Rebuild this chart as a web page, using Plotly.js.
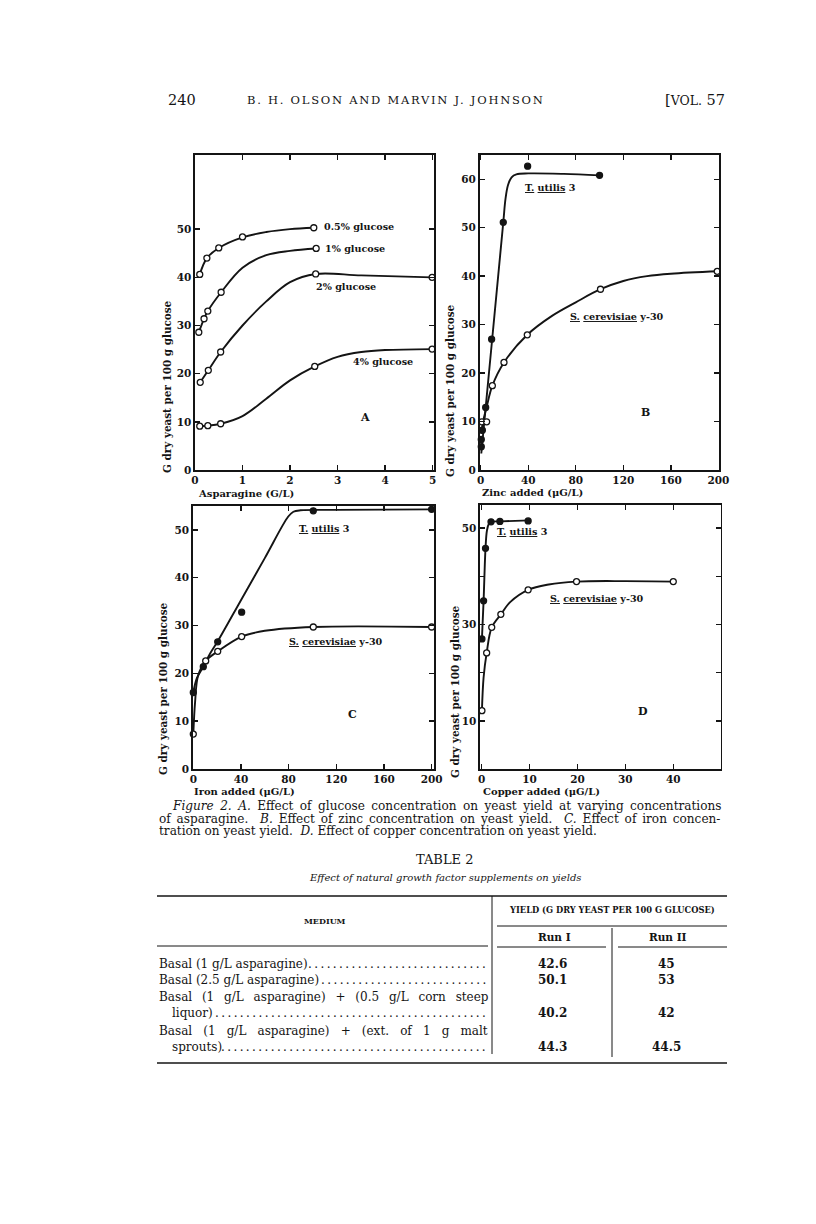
<!DOCTYPE html>
<html><head><meta charset="utf-8">
<script src="https://cdn.plot.ly/plotly-3.0.1.min.js"></script>
<style>html,body{margin:0;padding:0;background:#fff;}#plot{width:816px;height:1224px;}</style>
</head><body><div id="plot"></div>
<script>
// ---------- Panel A : asparagine (G/L) vs yield, four glucose levels ----------
const aX_05 = [0.1, 0.25, 0.5, 1.0, 2.5];
const aY_05 = [40.6, 44.0, 46.1, 48.4, 50.3];
const aX_1 = [0.08, 0.19, 0.27, 0.55, 2.55];
const aY_1 = [28.6, 31.4, 33.0, 36.9, 46.0];
const aX_2 = [0.11, 0.28, 0.54, 2.54, 4.99];
const aY_2 = [18.2, 20.7, 24.5, 40.7, 40.0];
const aX_4 = [0.1, 0.27, 0.54, 2.52, 4.99];
const aY_4 = [9.1, 9.2, 9.6, 21.5, 25.1];
const aCurveX_05 = [0.1, 0.25, 0.5, 1.0, 1.5, 2.0, 2.5];
const aCurveY_05 = [40.6, 44.0, 46.1, 48.3, 49.4, 50.0, 50.3];
const aCurveX_1 = [0.08, 0.19, 0.27, 0.55, 1.0, 1.5, 2.0, 2.55];
const aCurveY_1 = [28.6, 31.4, 33.0, 36.9, 42.0, 44.6, 45.5, 46.0];
const aCurveX_2 = [0.11, 0.28, 0.54, 1.0, 1.5, 2.0, 2.54, 3.5, 4.99];
const aCurveY_2 = [18.2, 20.7, 24.5, 30.0, 35.0, 39.0, 40.7, 40.4, 40.0];
const aCurveX_4 = [0.1, 0.27, 0.54, 1.0, 1.5, 2.0, 2.52, 3.0, 3.5, 4.0, 4.99];
const aCurveY_4 = [9.1, 9.2, 9.6, 11.2, 14.8, 18.6, 21.5, 23.5, 24.5, 24.9, 25.1];
const aLabels = ['0.5% glucose', '1% glucose', '2% glucose', '4% glucose'];

// ---------- Panel B : zinc added (µG/L) ----------
const bX_tu = [0.5, 0.5, 1.4, 4.2, 9.2, 19, 39.5, 100];
const bY_tu = [4.8, 6.3, 8.2, 12.9, 27.0, 51.1, 62.7, 60.8];
const bCurveX_tu = [0.5, 4.2, 9.2, 19, 20.9, 23, 26, 30, 40, 70, 100];
const bCurveY_tu = [3.4, 12.9, 25.8, 51.1, 56.0, 58.8, 60.4, 61.0, 61.2, 61.1, 60.8];
const bX_sc = [1, 5, 9.8, 19.6, 39.2, 100.8, 199];
const bY_sc = [9.95, 9.95, 17.4, 22.2, 27.9, 37.3, 41.0];
const bCurveX_sc = [0.5, 2, 5, 9.8, 19.6, 39.2, 60, 80, 100.8, 120, 140, 160, 200];
const bCurveY_sc = [7.5, 10, 13, 17.4, 22.2, 27.9, 31.8, 34.6, 37.3, 39.0, 40.0, 40.5, 41.0];
const bTicks = [0, 40, 80, 120, 160, 200];

// ---------- Panel C : iron added (µG/L) ----------
const cX_tu = [0, 8.4, 20.5, 40.6, 100.7, 200];
const cY_tu = [16.0, 21.4, 26.6, 32.8, 54.0, 54.3];
const cCurveX_tu = [0, 3, 8.4, 14, 20.5, 40, 60, 79.7, 84, 90, 120, 200];
const cCurveY_tu = [16.0, 19.0, 21.4, 24.1, 26.7, 35.3, 44.1, 52.8, 53.8, 54.1, 54.2, 54.3];
const cX_sc = [0, 10.4, 20.5, 40.6, 100.7, 200];
const cY_sc = [7.3, 22.6, 24.6, 27.7, 29.7, 29.7];
const cCurveX_sc = [0, 1.5, 4, 10.4, 20.5, 40.6, 60, 100.7, 200];
const cCurveY_sc = [7.3, 14, 19.5, 22.6, 24.6, 27.7, 28.9, 29.7, 29.7];
const cTicks = [0, 40, 80, 120, 160, 200];

// ---------- Panel D : copper added (µG/L) ----------
const dX_tu = [0.05, 0.4, 0.8, 1.95, 3.8, 9.7];
const dY_tu = [27.0, 34.9, 45.8, 51.3, 51.4, 51.5];
const dCurveX_tu = [0.05, 0.4, 0.8, 1.1, 1.5, 2, 4, 10];
const dCurveY_tu = [27.0, 34.9, 45.8, 49.5, 50.9, 51.3, 51.4, 51.6];
const dX_sc = [0.05, 1.04, 2.1, 4.0, 9.7, 19.8, 40];
const dY_sc = [12.1, 24.1, 29.4, 32.1, 37.2, 38.9, 38.9];
const dCurveX_sc = [0.05, 0.4, 1.04, 2.1, 4.0, 6.0, 9.7, 14, 19.8, 30, 40];
const dCurveY_sc = [12.1, 19, 24.1, 29.4, 32.1, 34.7, 37.2, 38.3, 38.9, 39.0, 38.9];
const dTicksX = [0, 10, 20, 30, 40];
const dTicksY = [10, 20, 30, 40, 50];
const dTickTextY = ['10', '', '30', '', '50'];

// ---------- Table 2 ----------
const tableRows = ['Basal (1 g/L asparagine)', 'Basal (2.5 g/L asparagine)',
  'Basal (1 g/L asparagine) + (0.5 g/L corn steep', 'liquor)',
  'Basal (1 g/L asparagine) + (ext. of 1 g malt', 'sprouts)'];
const runI = ['42.6', '50.1', '', '40.2', '', '44.3'];
const runII = ['45', '53', '', '42', '', '44.5'];

// ---------- drawing ----------
const W = 816, H = 1224;
const INK = '#141414';
const SERIF = '"DejaVu Serif", "Liberation Serif", serif';
const fx = p => p / W, fy = p => 1 - p / H;

function lineTrace(x, y, xa, ya) {
  return {x, y, xaxis: xa, yaxis: ya, mode: 'lines', type: 'scatter',
    line: {color: INK, width: 1.9, shape: 'spline', smoothing: 1}, hoverinfo: 'skip'};
}
function ptTrace(x, y, xa, ya, open) {
  return {x, y, xaxis: xa, yaxis: ya, mode: 'markers', type: 'scatter', cliponaxis: false,
    marker: {symbol: 'circle', size: 6, color: open ? '#fff' : INK, line: {color: INK, width: 1.3}},
    hoverinfo: 'skip'};
}
const traces = [];
[[aCurveX_05, aCurveY_05], [aCurveX_1, aCurveY_1], [aCurveX_2, aCurveY_2], [aCurveX_4, aCurveY_4]]
  .forEach(([x, y]) => traces.push(lineTrace(x, y, 'x', 'y')));
[[aX_05, aY_05], [aX_1, aY_1], [aX_2, aY_2], [aX_4, aY_4]]
  .forEach(([x, y]) => traces.push(ptTrace(x, y, 'x', 'y', true)));
traces.push(lineTrace(bCurveX_tu, bCurveY_tu, 'x2', 'y2'));
traces.push(lineTrace(bCurveX_sc, bCurveY_sc, 'x2', 'y2'));
traces.push(ptTrace(bX_sc, bY_sc, 'x2', 'y2', true));
traces.push(ptTrace(bX_tu, bY_tu, 'x2', 'y2', false));
traces.push(lineTrace(cCurveX_tu, cCurveY_tu, 'x3', 'y3'));
traces.push(lineTrace(cCurveX_sc, cCurveY_sc, 'x3', 'y3'));
traces.push(ptTrace(cX_sc, cY_sc, 'x3', 'y3', true));
traces.push(ptTrace(cX_tu, cY_tu, 'x3', 'y3', false));
traces.push(lineTrace(dCurveX_tu, dCurveY_tu, 'x4', 'y4'));
traces.push(lineTrace(dCurveX_sc, dCurveY_sc, 'x4', 'y4'));
traces.push(ptTrace(dX_sc, dY_sc, 'x4', 'y4', true));
traces.push(ptTrace(dX_tu, dY_tu, 'x4', 'y4', false));

const tickFont = {family: SERIF, size: 10.5, color: INK, weight: 'bold'};
function ax(extra) {
  return Object.assign({showline: true, linecolor: INK, linewidth: 1.6, mirror: 'ticks',
    ticks: 'inside', ticklen: 5, tickwidth: 1.4, tickcolor: INK, showgrid: false,
    zeroline: false, tickfont: tickFont, fixedrange: true, tickmode: 'array'}, extra);
}
const layout = {
  width: W, height: H, margin: {l: 0, r: 0, t: 0, b: 0},
  paper_bgcolor: '#fff', plot_bgcolor: 'rgba(0,0,0,0)', showlegend: false,
  xaxis: ax({domain: [fx(195), fx(434)], range: [0, 5.03], anchor: 'y', tickvals: [0, 1, 2, 3, 4, 5]}),
  yaxis: ax({domain: [fy(470), fy(155)], range: [0, 65.4], anchor: 'x', tickvals: [0, 10, 20, 30, 40, 50]}),
  xaxis2: ax({domain: [fx(479.5), fx(719)], range: [-1, 200.5], anchor: 'y2', tickvals: bTicks}),
  yaxis2: ax({domain: [fy(470), fy(155)], range: [0, 65], anchor: 'x2', tickvals: [0, 10, 20, 30, 40, 50, 60]}),
  xaxis3: ax({domain: [fx(192.7), fx(434)], range: [-0.5, 202], anchor: 'y3', tickvals: cTicks}),
  yaxis3: ax({domain: [fy(769), fy(506)], range: [0, 55], anchor: 'x3', tickvals: [0, 10, 20, 30, 40, 50]}),
  xaxis4: ax({domain: [fx(480), fx(720.7)], range: [-0.35, 49.9], anchor: 'y4', tickvals: dTicksX}),
  yaxis4: ax({domain: [fy(769), fy(505)], range: [0, 54.8], anchor: 'x4', tickvals: dTicksY, ticktext: dTickTextY}),
  annotations: [], shapes: []
};

const A = layout.annotations;
const boldF = (s) => ({family: SERIF, size: s, color: INK, weight: 'bold'});
const regF = (s) => ({family: SERIF, size: s, color: INK});
function dataText(text, x, y, xa, ya, anchor, size) {
  A.push({text, x, y, xref: xa, yref: ya, showarrow: false, xanchor: anchor || 'left',
    yanchor: 'middle', font: boldF(size || 9.6)});
}
function pageText(text, x, y, font, anchor, extra) {
  A.push(Object.assign({text, x: fx(x), y: fy(y), xref: 'paper', yref: 'paper', showarrow: false,
    xanchor: anchor || 'left', yanchor: 'middle', font}, extra || {}));
}
function rule(x0, y0, x1, y1, w) {
  layout.shapes.push({type: 'line', xref: 'paper', yref: 'paper', x0: fx(x0), y0: fy(y0),
    x1: fx(x1), y1: fy(y1), line: {color: INK, width: w}});
}
const sp = (css, t) => '<span style="' + css + '">' + t + '</span>';

// in-plot labels
dataText(aLabels[0], 2.68, 50.5, 'x', 'y');
dataText(aLabels[1], 2.70, 46.0, 'x', 'y');
dataText(aLabels[2], 2.51, 38.2, 'x', 'y');
dataText(aLabels[3], 3.28, 22.6, 'x', 'y');
dataText('A', 3.58, 11.0, 'x', 'y', 'center', 11);
const TU = '<u>T.</u> <u>utilis</u> 3';
const SC = '<u>S.</u> <u>cerevisiae</u> y-30';
dataText(TU, 36, 58.2, 'x2', 'y2');
dataText(SC, 73.8, 31.6, 'x2', 'y2');
dataText('B', 138.3, 11.9, 'x2', 'y2', 'center', 11);
dataText(TU, 87.2, 50.3, 'x3', 'y3');
dataText(SC, 78.4, 26.7, 'x3', 'y3');
dataText('C', 133.7, 11.5, 'x3', 'y3', 'center', 11);
dataText(TU, 2.8, 49.2, 'x4', 'y4');
dataText(SC, 13.9, 35.3, 'x4', 'y4');
dataText('D', 33.6, 11.9, 'x4', 'y4', 'center', 11);

// axis titles
const YT = 'G dry yeast per 100 g glucose';
pageText(YT, 167, 387, boldF(10.4), 'center', {textangle: -90});
pageText(YT, 450, 391, boldF(10.4), 'center', {textangle: -90});
pageText(YT, 163, 689, boldF(10.4), 'center', {textangle: -90});
pageText(YT, 455, 692, boldF(10.4), 'center', {textangle: -90});
pageText('Asparagine (G/L)', 196, 493, boldF(10));
pageText('Zinc added (\u03bcG/L)', 480, 492, boldF(10));
pageText('Iron added (\u03bcG/L)', 192, 791, boldF(10));
pageText('Copper added (\u03bcG/L)', 481, 791, boldF(10));

// running head
pageText('240', 166, 100, regF(14.5));
pageText(sp('letter-spacing:1.75px', 'B. H. OLSON AND MARVIN J. JOHNSON'), 245, 100, regF(11.5));
pageText('[' + sp('font-size:12.5px', 'VOL.') + ' 57', 727, 100, regF(14.5), 'right');

// caption
const capF = regF(12.1);
pageText(sp('word-spacing:2.6px', '<i>Figure 2. A.</i> Effect of glucose concentration on yeast yield at varying concentrations'), 170, 806, capF);
pageText(sp('word-spacing:2.0px', 'of asparagine.\u00a0 <i>B.</i> Effect of zinc concentration on yeast yield.\u00a0 <i>C.</i> Effect of iron concen-'), 157, 818.5, capF);
pageText('tration on yeast yield.\u00a0 <i>D.</i> Effect of copper concentration on yeast yield.', 157, 831, capF);

// table
pageText('TABLE 2', 445, 860, regF(13), 'center');
pageText('<i>Effect of natural growth factor supplements on yields</i>', 445, 877, regF(10), 'center');
rule(157, 896, 727, 896, 1.5);
pageText('MEDIUM', 325, 921, boldF(8), 'center');
pageText('YIELD (G DRY YEAST PER 100 G GLUCOSE)', 612, 910, boldF(8.3), 'center');
rule(497, 926, 727, 926, 1);
pageText('Run I', 554, 937, boldF(10.5), 'center');
pageText('Run II', 668, 937, boldF(10.5), 'center');
rule(157, 946, 488, 946, 1);
rule(497, 947, 606, 947, 1);
rule(618, 947, 727, 947, 1);
rule(492, 896, 492, 1054, 1);
rule(612, 928, 612, 1057, 1);
const rowY = [964, 980, 997, 1013, 1031, 1047];
const rowX = [157, 157, 157, 170, 157, 170];
const dotsN = [29, 27, 0, 44, 0, 43];
const rowWordSpacing = [0, 0, 6, 0, 7.3, 0];
function dots(n) { return Array(n).fill('.').join('\u2009'); }
tableRows.forEach((t, i) => {
  const txt = rowWordSpacing[i] ? sp('word-spacing:' + rowWordSpacing[i] + 'px', t) : t;
  pageText(txt, rowX[i], rowY[i], regF(12));
  if (dotsN[i]) pageText(dots(dotsN[i]), 488, rowY[i], regF(12), 'right');
  if (runI[i]) pageText(runI[i], 552, rowY[i], boldF(12), 'center');
  if (runII[i]) pageText(runII[i], 666, rowY[i], boldF(12), 'center');
});
rule(157, 1063, 727, 1063, 1.5);

Plotly.newPlot('plot', traces, layout, {staticPlot: true, displayModeBar: false});
</script></body></html>
